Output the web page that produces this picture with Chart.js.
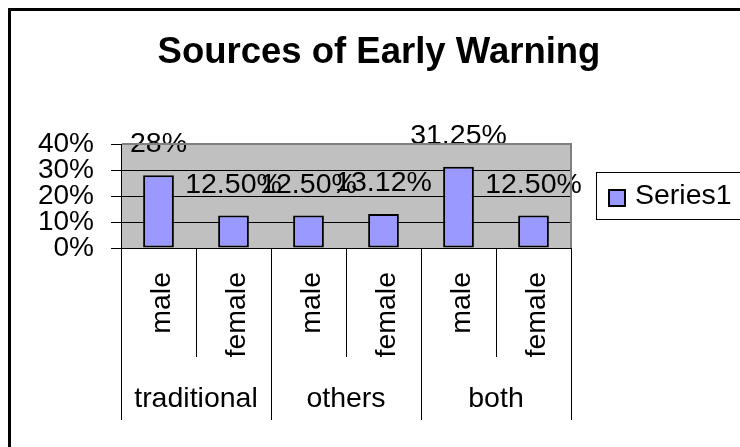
<!DOCTYPE html>
<html>
<head>
<meta charset="utf-8">
<script src="https://cdn.jsdelivr.net/npm/chart.js@4.4.1/dist/chart.umd.min.js"></script>
<style>
  html, body { margin: 0; padding: 0; background: #fff; }
  canvas { display: block; }
</style>
</head>
<body>
<canvas id="c" width="740" height="447"></canvas>
<script>
const TITLE = "Sources of Early Warning";
const CATEGORIES = ["male", "female", "male", "female", "male", "female"];
const GROUPS = ["traditional", "others", "both"];
const GROUP_SIZES = [2, 2, 2];
const SERIES_NAME = "Series1";
const VALUES = [28, 12.5, 12.5, 13.12, 31.25, 12.5];
const VALUE_LABELS = ["28%", "12.50%", "12.50%", "13.12%", "31.25%", "12.50%"];
const Y_MIN = 0, Y_MAX = 40, Y_STEP = 10;

const FONT = "'Liberation Sans', Arial, Helvetica, sans-serif";
Chart.defaults.font.family = FONT;
Chart.defaults.color = '#000';

const BAR_COLOR = '#9999FF';

const excelPlugin = {
  id: 'excelLook',
  beforeDraw(chart) {
    const { ctx, chartArea: a } = chart;
    ctx.save();
    ctx.fillStyle = '#fff';
    ctx.fillRect(0, 0, chart.width, chart.height);
    ctx.fillStyle = '#C0C0C0';
    ctx.fillRect(a.left, a.top, a.right - a.left, a.bottom - a.top);
    ctx.restore();
  },
  afterDatasetsDraw(chart) {
    const { ctx } = chart;
    const meta = chart.getDatasetMeta(0);
    ctx.save();
    ctx.fillStyle = '#000';
    ctx.font = '28.5px ' + FONT;
    ctx.textAlign = 'center';
    ctx.textBaseline = 'alphabetic';
    meta.data.forEach((bar, i) => {
      ctx.fillText(VALUE_LABELS[i], bar.x, bar.y - 23);
    });
    ctx.restore();
  },
  afterDraw(chart) {
    const { ctx, chartArea: a, scales } = chart;
    const x = scales.x;
    ctx.save();
    // outer frame (left/top visible)
    ctx.fillStyle = '#000';
    ctx.fillRect(8, 8, 3, chart.height - 8);
    ctx.fillRect(8, 8, chart.width - 8, 3);

    // plot area border (gray top/right)
    ctx.strokeStyle = '#808080';
    ctx.lineWidth = 2;
    ctx.beginPath();
    ctx.moveTo(a.left + 1, a.top);
    ctx.lineTo(a.right, a.top);
    ctx.lineTo(a.right, a.bottom);
    ctx.stroke();

    // title
    ctx.fillStyle = '#000';
    ctx.font = 'bold 36.5px ' + FONT;
    ctx.textAlign = 'center';
    ctx.textBaseline = 'alphabetic';
    ctx.fillText(TITLE, 379, 63);

    // category separators
    const groupBounds = [0];
    GROUP_SIZES.forEach(s => groupBounds.push(groupBounds[groupBounds.length - 1] + s));
    ctx.strokeStyle = '#000';
    ctx.lineWidth = 1;
    for (let k = 0; k <= CATEGORIES.length; k++) {
      const px = Math.round(x.getPixelForValue(k - 0.5)) + 0.5;
      const isGroup = groupBounds.includes(k);
      ctx.beginPath();
      ctx.moveTo(px, a.bottom);
      ctx.lineTo(px, isGroup ? 420 : 357);
      ctx.stroke();
    }

    // rotated sub-category labels
    ctx.font = '28.5px ' + FONT;
    CATEGORIES.forEach((lab, i) => {
      const cx = x.getPixelForValue(i);
      ctx.save();
      ctx.translate(cx + 11.5, 272);
      ctx.rotate(-Math.PI / 2);
      ctx.textAlign = 'right';
      ctx.textBaseline = 'alphabetic';
      ctx.fillText(lab, 0, 0);
      ctx.restore();
    });

    // group labels
    ctx.textAlign = 'center';
    GROUPS.forEach((g, gi) => {
      const s = groupBounds[gi], e = groupBounds[gi + 1];
      const cx = (x.getPixelForValue(s - 0.5) + x.getPixelForValue(e - 0.5)) / 2;
      ctx.fillText(g, cx, 407);
    });

    // legend
    ctx.lineWidth = 1;
    ctx.strokeStyle = '#000';
    ctx.strokeRect(596.5, 172.5, 200, 47);
    ctx.fillStyle = BAR_COLOR;
    ctx.fillRect(609, 190, 16, 16);
    ctx.lineWidth = 2;
    ctx.strokeRect(609, 190, 16, 16);
    ctx.fillStyle = '#000';
    ctx.textAlign = 'left';
    ctx.fillText(SERIES_NAME, 635, 204);
    ctx.restore();
  }
};

new Chart(document.getElementById('c'), {
  type: 'bar',
  data: {
    labels: CATEGORIES,
    datasets: [{
      label: SERIES_NAME,
      data: VALUES,
      backgroundColor: BAR_COLOR,
      borderColor: '#000',
      borderWidth: 2,
      borderSkipped: false,
      barPercentage: 0.41,
      categoryPercentage: 1.0
    }]
  },
  options: {
    responsive: false,
    animation: false,
    devicePixelRatio: 1,
    layout: { padding: { left: 0, top: 144, right: 169, bottom: 0 } },
    plugins: {
      legend: { display: false },
      title: { display: false },
      tooltip: { enabled: false }
    },
    scales: {
      x: {
        type: 'category',
        ticks: { display: false },
        grid: { display: false },
        border: { display: true, color: '#000', width: 1 },
        afterFit(scale) { scale.height = 447 - 248; }
      },
      y: {
        min: Y_MIN,
        max: Y_MAX,
        ticks: {
          stepSize: Y_STEP,
          autoSkip: false,
          padding: 17,
          color: '#000',
          font: { size: 28 },
          callback: v => v + '%'
        },
        grid: { color: '#000', lineWidth: 1, tickLength: 10, drawTicks: true },
        border: { display: true, color: '#000', width: 1 },
        afterFit(scale) { scale.width = 121; }
      }
    }
  },
  plugins: [excelPlugin]
});
</script>
</body>
</html>
